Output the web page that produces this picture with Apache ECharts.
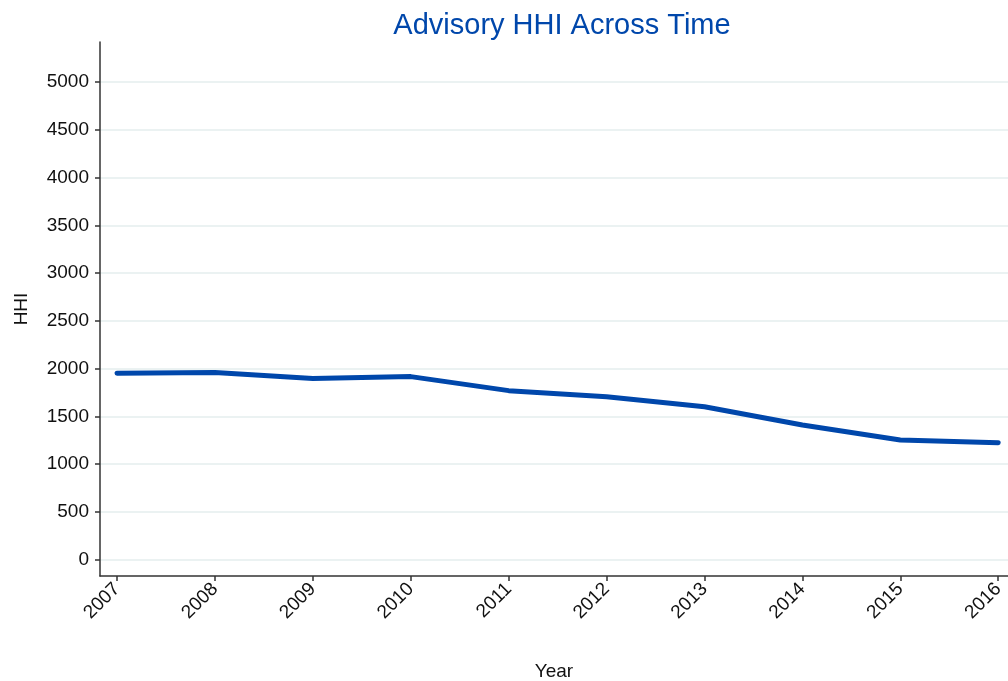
<!DOCTYPE html>
<html>
<head>
<meta charset="utf-8">
<script src="https://cdn.jsdelivr.net/npm/echarts@6/dist/echarts.min.js"></script>
<style>
html,body{margin:0;padding:0;background:#fff;}
#chart{width:1008px;height:681px;}
</style>
</head>
<body>
<div id="chart"></div>
<script>
const years = [2007, 2008, 2009, 2010, 2011, 2012, 2013, 2014, 2015, 2016];
const hhi = [1951, 1958, 1895, 1916, 1769, 1706, 1601, 1409, 1252, 1223];
const yTicks = [0, 500, 1000, 1500, 2000, 2500, 3000, 3500, 4000, 4500, 5000];
const titleText = 'Advisory HHI Across Time';
const xName = 'Year';
const yName = 'HHI';

const FONT = '"Liberation Sans", Arial, sans-serif';
const chart = echarts.init(document.getElementById('chart'), null, {renderer: 'canvas'});
chart.setOption({
  animation: false,
  backgroundColor: '#fff',
  title: {
    text: titleText,
    left: 557,
    top: 6,
    textAlign: 'center',
    textStyle: {color: '#0047AB', fontSize: 29, fontWeight: 'normal', fontFamily: FONT}
  },
  grid: {left: 100, right: 0, top: 42, bottom: 105, containLabel: false, outerBoundsMode: 'none'},
  xAxis: {
    type: 'value',
    min: 2006.826,
    max: 2016.10,
    name: xName,
    nameLocation: 'middle',
    nameGap: 86,
    nameTextStyle: {color: '#111', fontSize: 19, fontFamily: FONT},
    axisLine: {show: true, onZero: false, lineStyle: {color: '#333', width: 1.5}},
    axisTick: {show: true, length: 5, lineStyle: {color: '#333', width: 1.5}, customValues: years},
    axisLabel: {
      customValues: years,
      rotate: 45,
      color: '#111',
      fontSize: 19,
      fontFamily: FONT,
      margin: 10,
      formatter: v => String(Math.round(v))
    },
    splitLine: {show: false}
  },
  yAxis: {
    type: 'value',
    min: -172,
    max: 5420,
    name: yName,
    nameLocation: 'middle',
    nameGap: 69,
    nameRotate: 90,
    nameTextStyle: {color: '#111', fontSize: 19, fontFamily: FONT},
    axisLine: {show: true, lineStyle: {color: '#333', width: 1.5}},
    axisTick: {show: true, length: 5, lineStyle: {color: '#333', width: 1.5}, customValues: yTicks},
    axisLabel: {customValues: yTicks, color: '#111', fontSize: 19, fontFamily: FONT, margin: 11,
      formatter: v => String(v)},
    splitLine: {show: true, lineStyle: {color: '#EBF2F2', width: 2}}
  },
  series: [{
    type: 'line',
    data: years.map((y, i) => [y, hhi[i]]),
    showSymbol: false,
    lineStyle: {color: '#0047AB', width: 5, cap: 'round', join: 'round'},
    itemStyle: {color: '#0047AB'}
  }]
});
</script>
</body>
</html>
